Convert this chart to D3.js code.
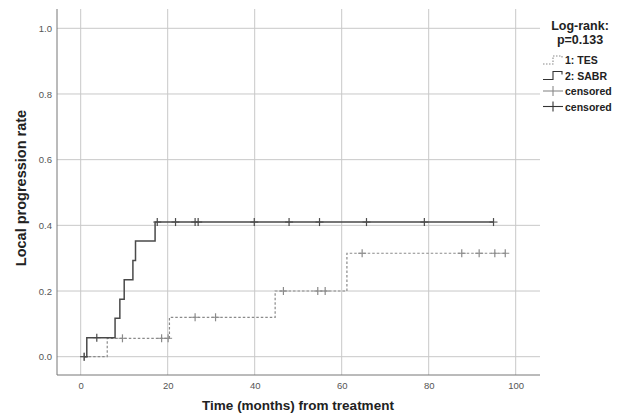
<!DOCTYPE html>
<html><head><meta charset="utf-8">
<script src="https://cdn.jsdelivr.net/npm/d3@7/dist/d3.min.js"></script>
<style>body{margin:0;background:#fff}svg{display:block}</style>
</head><body>
<svg id="c" width="625" height="420"></svg>
<script>
// ---- data ----
const xTicks = [0, 20, 40, 60, 80, 100];
const yTicks = [0.0, 0.2, 0.4, 0.6, 0.8, 1.0];
const groups = ["1: TES", "2: SABR"];
const tesStart = 0.8, tesEnd = 97.6;
const tesEventTimes = [6.1, 20.4, 44.7, 61.2];
const tesValues = [0.056, 0.12, 0.20, 0.315];
const tesCensored = [0.8, 9.6, 18.6, 20.1, 26.3, 31.0, 46.6, 54.5, 56.2, 64.7, 87.6, 91.6, 95.2, 97.6];
const sabrStart = 0.8, sabrEnd = 94.9;
const sabrEventTimes = [1.4, 7.9, 9.0, 10.0, 12.0, 12.6, 17.1];
const sabrValues = [0.058, 0.117, 0.175, 0.234, 0.293, 0.352, 0.41];
const sabrCensored = [0.8, 3.7, 17.6, 21.8, 26.3, 27.0, 39.9, 47.9, 54.9, 65.7, 79.0, 94.9];
const logRank = ["Log-rank:", "p=0.133"];

// ---- layout ----
const svg = d3.select("#c");
const L = 57, R = 540, T = 9, B = 375;
const x = d3.scaleLinear().domain([0, 100]).range([80.7, 515.7]);
const y = d3.scaleLinear().domain([0, 1]).range([356.7, 28.3]);
const grid = "#c8c8c8";
const FF = "Arial, 'Liberation Sans', sans-serif";

// grid
svg.append("g").selectAll("line").data(yTicks).join("line")
  .attr("x1", L).attr("x2", R).attr("y1", d => y(d)).attr("y2", d => y(d))
  .attr("stroke", grid).attr("stroke-width", 1);
svg.append("g").selectAll("line").data(xTicks).join("line")
  .attr("y1", T).attr("y2", B).attr("x1", d => x(d)).attr("x2", d => x(d))
  .attr("stroke", grid).attr("stroke-width", 1);

// axes
const ya = svg.append("g").attr("transform", `translate(${L},0)`)
  .call(d3.axisLeft(y).tickValues(yTicks).tickFormat(d3.format(".1f")).tickSize(0).tickPadding(5));
ya.select(".domain").remove();
ya.selectAll("text").attr("font-family", FF).attr("font-size", 9.5).attr("fill", "#555");
const xa = svg.append("g").attr("transform", `translate(0,${B})`)
  .call(d3.axisBottom(x).tickValues(xTicks).tickFormat(d3.format("d")).tickSize(0).tickPadding(7));
xa.select(".domain").remove();
xa.selectAll("text").attr("font-family", FF).attr("font-size", 9.5).attr("fill", "#555");

svg.append("line").attr("x1", L).attr("x2", L).attr("y1", T).attr("y2", B).attr("stroke", "#777").attr("stroke-width", 1);
svg.append("line").attr("x1", L).attr("x2", R).attr("y1", B).attr("y2", B).attr("stroke", "#777").attr("stroke-width", 1);

// titles
svg.append("text").attr("x", 298).attr("y", 410).attr("text-anchor", "middle")
  .attr("font-family", FF).attr("font-weight", "bold").attr("font-size", 13.5).attr("fill", "#222")
  .text("Time (months) from treatment");
svg.append("text").attr("transform", "translate(26,188) rotate(-90)").attr("text-anchor", "middle")
  .attr("font-family", FF).attr("font-weight", "bold").attr("font-size", 14.5).attr("fill", "#222")
  .text("Local progression rate");

// curves
function stepPoints(start, times, vals, end) {
  const pts = [[start, 0]];
  times.forEach((t, i) => pts.push([t, vals[i]]));
  pts.push([end, vals[vals.length - 1]]);
  return pts;
}
function valueAt(t, times, vals) {
  let v = 0;
  times.forEach((tt, i) => { if (tt <= t) v = vals[i]; });
  return v;
}
const line = d3.line().x(d => x(d[0])).y(d => y(d[1])).curve(d3.curveStepAfter);

const series = [
  {start: tesStart, end: tesEnd, times: tesEventTimes, vals: tesValues, cens: tesCensored, color: "#8a8a8a", dash: "2.5,2", w: 1.2},
  {start: sabrStart, end: sabrEnd, times: sabrEventTimes, vals: sabrValues, cens: sabrCensored, color: "#4a4a4a", dash: null, w: 1.5}
];
series.forEach(s => {
  svg.append("path").attr("d", line(stepPoints(s.start, s.times, s.vals, s.end)))
    .attr("fill", "none").attr("stroke", s.color).attr("stroke-width", s.w)
    .attr("stroke-dasharray", s.dash);
  const g = svg.append("g");
  s.cens.forEach(t => {
    const cx = x(t), cy = y(valueAt(t, s.times, s.vals));
    g.append("line").attr("x1", cx - 4).attr("x2", cx + 4).attr("y1", cy).attr("y2", cy).attr("stroke", s.color).attr("stroke-width", 1);
    g.append("line").attr("x1", cx).attr("x2", cx).attr("y1", cy - 4).attr("y2", cy + 4).attr("stroke", s.color).attr("stroke-width", 1.2);
  });
});

// legend
const lg = svg.append("g").attr("font-family", FF).attr("font-weight", "bold");
lg.selectAll("text.lr").data(logRank).join("text").attr("class", "lr")
  .attr("x", 580).attr("y", (d, i) => 30 + i * 13.5).attr("text-anchor", "middle")
  .attr("font-size", 12.5).attr("fill", "#222").text(d => d);

const items = [
  {label: groups[0], type: "step", color: "#8a8a8a", dash: "1.5,1.5"},
  {label: groups[1], type: "step", color: "#333", dash: null},
  {label: "censored", type: "cens", color: "#8a8a8a"},
  {label: "censored", type: "cens", color: "#333"}
];
items.forEach((it, i) => {
  const cy = 60 + i * 15.5;
  if (it.type === "step") {
    svg.append("path").attr("d", `M543,${cy + 4}H553V${cy - 4}H562V${cy - 1}`)
      .attr("fill", "none").attr("stroke", it.color).attr("stroke-width", 1.1).attr("stroke-dasharray", it.dash);
  } else {
    svg.append("line").attr("x1", 543).attr("x2", 563).attr("y1", cy).attr("y2", cy).attr("stroke", it.color).attr("stroke-width", 1.1);
    svg.append("line").attr("x1", 553).attr("x2", 553).attr("y1", cy - 5).attr("y2", cy + 5).attr("stroke", it.color).attr("stroke-width", 1.1);
  }
  lg.append("text").attr("x", 565).attr("y", cy + 4).attr("font-size", 10.5).attr("fill", "#222").text(it.label);
});
</script>
</body></html>
